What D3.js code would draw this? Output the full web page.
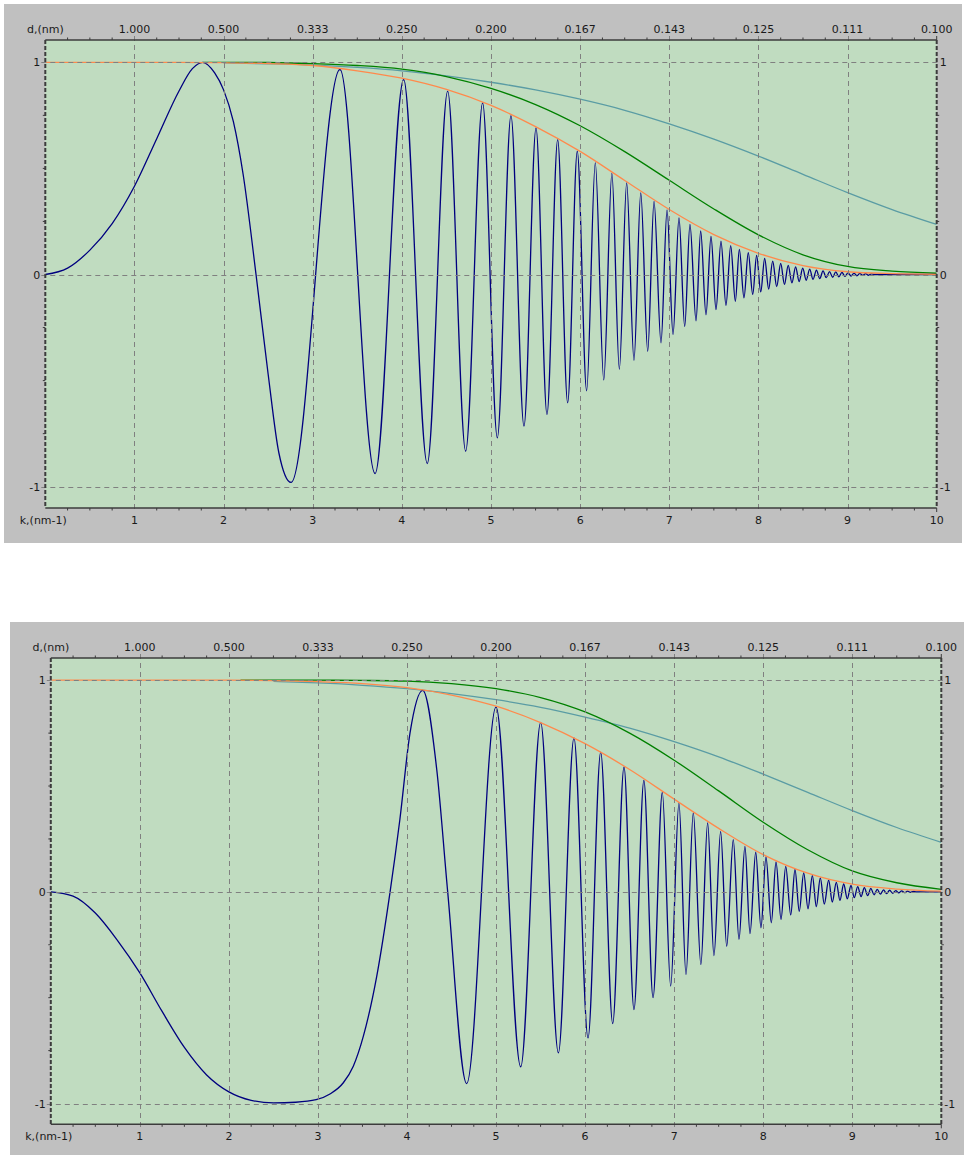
<!DOCTYPE html>
<html>
<head>
<meta charset="utf-8">
<script src="https://cdn.jsdelivr.net/npm/d3@7"></script>
<style>
  body { margin: 0; background: #ffffff; }
  svg { display: block; }
  text { font-family: "DejaVu Sans", Verdana, sans-serif; font-size: 11px; fill: #1a1a1a; }
</style>
</head>
<body>
<svg id="chart" width="964" height="1156"></svg>
<script>
// ---------- axis labels ----------
const kTicks = [1, 2, 3, 4, 5, 6, 7, 8, 9, 10];
const kTickLabels = ["1", "2", "3", "4", "5", "6", "7", "8", "9", "10"];
const dTickLabels = ["1.000", "0.500", "0.333", "0.250", "0.200", "0.167", "0.143", "0.125", "0.111", "0.100"];
const yTicks = [-1, 0, 1];
const yTickLabels = ["-1", "0", "1"];
const kAxisTitle = "k,(nm-1)";
const dAxisTitle = "d,(nm)";

// ---------- envelope samples (k = 0, 0.5, ... 10) ----------
const envK = [0, 0.5, 1, 1.5, 2, 2.5, 3, 3.5, 4, 4.5, 5, 5.5, 6, 6.5, 7, 7.5, 8, 8.5, 9, 9.5, 10];

// upper chart
const orangeTopV = [1, 1, 1, 1, 0.998, 0.994, 0.985, 0.96, 0.925, 0.872, 0.797, 0.697, 0.58, 0.443, 0.306, 0.188, 0.1, 0.042, 0.013, 0.004, 0.001];
const greenTopK = [1.77, 2, 2.5, 3, 3.5, 4, 4.5, 5, 5.5, 6, 6.5, 7, 7.5, 8, 8.5, 9, 9.5, 10];
const greenTopV = [1, 1, 0.999, 0.994, 0.985, 0.968, 0.933, 0.877, 0.801, 0.701, 0.579, 0.444, 0.309, 0.187, 0.093, 0.038, 0.016, 0.006];
const tealTopK = [2, 2.5, 3, 3.5, 4, 4.5, 5, 5.5, 6, 6.5, 7, 7.5, 8, 8.5, 9, 9.5, 10];
const tealTopV = [0.997, 0.993, 0.987, 0.976, 0.96, 0.936, 0.906, 0.87, 0.826, 0.774, 0.71, 0.638, 0.558, 0.472, 0.386, 0.306, 0.236];

// lower chart
const orangeBotV = [1, 1, 1, 1, 1, 0.998, 0.993, 0.984, 0.965, 0.93, 0.877, 0.8, 0.7, 0.578, 0.438, 0.3, 0.176, 0.088, 0.036, 0.013, 0.003];
const greenBotK = [2.13, 2.5, 3, 3.5, 4, 4.5, 5, 5.5, 6, 6.5, 7, 7.5, 8, 8.5, 9, 9.5, 10];
const greenBotV = [1, 1, 1, 0.999, 0.996, 0.984, 0.96, 0.918, 0.85, 0.75, 0.622, 0.477, 0.329, 0.199, 0.099, 0.043, 0.012];
const tealBotK = [2.5, 3, 3.5, 4, 4.5, 5, 5.5, 6, 6.5, 7, 7.5, 8, 8.5, 9, 9.5, 10];
const tealBotV = [0.994, 0.987, 0.976, 0.96, 0.937, 0.908, 0.872, 0.826, 0.774, 0.71, 0.638, 0.556, 0.47, 0.384, 0.304, 0.234];

// ---------- contrast transfer function: turning points [k, value] ----------
const ctfTop = [
  [0, 0], [0.25, 0.03], [0.5, 0.115], [0.75, 0.24], [1, 0.416], [1.25, 0.64], [1.5, 0.865], [1.65, 0.97],
  [1.766, 1.0], [1.9, 0.95], [2.0, 0.87], [2.11, 0.72], [2.22, 0.47], [2.364, 0], [2.5, -0.47], [2.62, -0.84],
  [2.757, -0.98], [3.306, 0.966],
  [3.70, -0.938], [4.02, 0.919], [4.285, -0.891], [4.514, 0.864], [4.716, -0.833], [4.906, 0.809],
  [5.071, -0.77], [5.224, 0.749], [5.37, -0.715], [5.505, 0.691], [5.628, -0.66], [5.748, 0.636],
  [5.86, -0.605], [5.968, 0.581], [6.073, -0.548], [6.17, 0.526], [6.265, -0.497], [6.356, 0.477],
  [6.44, -0.446], [6.522, 0.432], [6.604, -0.404], [6.68, 0.385], [6.758, -0.362], [6.829, 0.345],
  [6.907, -0.322], [6.975, 0.305], [7.042, -0.283], [7.109, 0.267], [7.173, -0.246], [7.232, 0.236],
  [7.3, -0.218], [7.352, 0.205], [7.412, -0.19], [7.468, 0.18], [7.524, -0.165], [7.58, 0.157],
  [7.636, -0.145], [7.689, 0.136], [7.741, -0.126], [7.786, 0.118], [7.838, -0.11], [7.886, 0.103],
  [7.936, -0.094], [7.98, 0.09], [8.026, -0.082], [8.07, 0.076], [8.115, -0.069], [8.16, 0.063],
  [8.205, -0.057], [8.25, 0.052], [8.292, -0.047], [8.334, 0.043], [8.376, -0.039], [8.417, 0.036],
  [8.457, -0.033], [8.497, 0.03], [8.536, -0.027], [8.575, 0.025], [8.613, -0.023], [8.651, 0.021],
  [8.688, -0.019], [8.725, 0.017], [8.761, -0.015], [8.797, 0.014], [8.833, -0.013], [8.868, 0.012],
  [8.903, -0.011], [8.937, 0.01], [8.971, -0.009], [9.005, 0.008], [9.039, -0.007], [9.072, 0.0065],
  [9.105, -0.006], [9.138, 0.005], [9.171, -0.0045], [9.203, 0.004], [9.235, -0.0035], [9.267, 0.003],
  [9.3, 0], [10, 0]
];

const ctfBot = [
  [0, 0], [0.25, -0.02], [0.5, -0.1], [0.75, -0.23], [1.0, -0.383], [1.25, -0.565], [1.5, -0.735],
  [1.75, -0.865], [2.0, -0.945], [2.25, -0.985], [2.5, -0.997], [2.75, -0.994], [2.98, -0.982],
  [3.135, -0.955], [3.285, -0.902], [3.397, -0.824], [3.51, -0.682], [3.66, -0.399], [3.81, 0],
  [3.92, 0.342], [4.034, 0.751], [4.176, 0.952], [4.334, 0.578], [4.457, 0], [4.67, -0.906],
  [5.0, 0.874], [5.277, -0.827], [5.501, 0.801], [5.70, -0.761], [5.875, 0.727], [6.033, -0.69],
  [6.175, 0.66], [6.31, -0.622], [6.437, 0.59], [6.549, -0.556], [6.66, 0.527], [6.763, -0.5],
  [6.867, 0.47], [6.961, -0.445], [7.054, 0.42], [7.133, -0.39], [7.215, 0.373], [7.3, -0.343],
  [7.376, 0.326], [7.447, -0.301], [7.522, 0.286], [7.59, -0.257], [7.664, 0.247], [7.728, -0.225],
  [7.795, 0.215], [7.852, -0.197], [7.916, 0.187], [7.975, -0.17], [8.031, 0.165], [8.091, -0.146],
  [8.144, 0.142], [8.2, -0.13], [8.253, 0.12], [8.309, -0.109], [8.357, 0.106], [8.405, -0.092],
  [8.455, 0.09], [8.503, -0.08], [8.552, 0.077], [8.597, -0.07], [8.641, 0.066], [8.686, -0.058],
  [8.735, 0.055], [8.776, -0.048], [8.821, 0.045], [8.862, -0.04], [8.904, 0.037], [8.944, -0.033],
  [8.986, 0.03], [9.023, -0.027], [9.061, 0.025], [9.099, -0.022], [9.136, 0.02], [9.173, -0.018],
  [9.209, 0.016], [9.245, -0.014], [9.281, 0.012], [9.316, -0.011], [9.351, 0.0095], [9.386, -0.0085],
  [9.42, 0.0075], [9.454, -0.0065], [9.488, 0.0057], [9.522, -0.005], [9.555, 0.0044], [9.588, -0.0038],
  [9.621, 0.0033], [9.654, -0.0028], [9.687, 0.0024], [9.72, 0], [10, 0]
];

// ---------- drawing ----------
const COLORS = {
  frame: "#c0c0c0",
  plot: "#c0dcc0",
  grid: "#808080",
  axis: "#3c3c3c",
  ctf: "#00007f",
  orange: "#ff8a4c",
  green: "#008000",
  teal: "#5a9ca4"
};

const pairs = (ks, vs) => ks.map((k, i) => [k, vs[i]]);

const panels = [
  {
    id: "upper",
    frame: { x: 4, y: 4, w: 958, h: 539 },
    kRange: [45.3, 936.7],
    yRange: [486.7, 62.3],
    box: [40, 508],
    ctf: ctfTop,
    orange: pairs(envK, orangeTopV),
    green: pairs(greenTopK, greenTopV),
    teal: pairs(tealTopK, tealTopV)
  },
  {
    id: "lower",
    frame: { x: 10, y: 622, w: 954, h: 533 },
    kRange: [50.8, 941.3],
    yRange: [1103.5, 680.2],
    box: [658, 1124.3],
    ctf: ctfBot,
    orange: pairs(envK, orangeBotV),
    green: pairs(greenBotK, greenBotV),
    teal: pairs(tealBotK, tealBotV)
  }
];

const svg = d3.select("#chart");

panels.forEach(p => {
  const g = svg.append("g").attr("class", "panel-" + p.id);
  const x = d3.scaleLinear().domain([0, 10]).range(p.kRange);
  const y = d3.scaleLinear().domain([-1, 1]).range(p.yRange);
  const [x0, x1] = p.kRange;
  const [top, bottom] = p.box;

  // grey surround and plot background
  g.append("rect")
    .attr("x", p.frame.x).attr("y", p.frame.y)
    .attr("width", p.frame.w).attr("height", p.frame.h)
    .attr("fill", COLORS.frame);
  g.append("rect")
    .attr("x", x0).attr("y", top)
    .attr("width", x1 - x0).attr("height", bottom - top)
    .attr("fill", COLORS.plot);

  const clipId = "clip-" + p.id;
  g.append("clipPath").attr("id", clipId)
    .append("rect").attr("x", x0).attr("y", top)
    .attr("width", x1 - x0).attr("height", bottom - top);

  const curves = g.append("g").attr("clip-path", `url(#${clipId})`).attr("fill", "none");
  const line = d3.line().x(d => x(d[0])).y(d => y(d[1])).curve(d3.curveMonotoneX);

  curves.append("path").datum(p.teal).attr("d", line)
    .attr("stroke", COLORS.teal).attr("stroke-width", 1.3);
  curves.append("path").datum(p.green).attr("d", line)
    .attr("stroke", COLORS.green).attr("stroke-width", 1.3);
  curves.append("path").datum(p.ctf).attr("d", line)
    .attr("stroke", COLORS.ctf).attr("stroke-width", 1.3).attr("stroke-linejoin", "round");
  curves.append("path").datum(p.orange).attr("d", line)
    .attr("stroke", COLORS.orange).attr("stroke-width", 1.3);

  // dashed grid (extends a few px past the frame as major ticks)
  const grid = g.append("g").attr("stroke", COLORS.grid).attr("stroke-width", 1)
    .attr("stroke-dasharray", "5,4");
  grid.selectAll("line.v").data(kTicks.slice(0, -1)).join("line")
    .attr("x1", d => Math.round(x(d)) + 0.5).attr("x2", d => Math.round(x(d)) + 0.5)
    .attr("y1", top - 4).attr("y2", bottom + 4);
  grid.selectAll("line.h").data(yTicks).join("line")
    .attr("x1", x0 - 4).attr("x2", x1 + 4)
    .attr("y1", d => Math.round(y(d)) + 0.5).attr("y2", d => Math.round(y(d)) + 0.5);

  // k axes: solid lines top and bottom with quarter-step minor ticks
  const axes = g.append("g").attr("stroke", COLORS.axis);
  axes.append("line").attr("x1", x0).attr("x2", x1).attr("y1", top).attr("y2", top).attr("stroke-width", 1.5);
  axes.append("line").attr("x1", x0).attr("x2", x1).attr("y1", bottom).attr("y2", bottom).attr("stroke-width", 1.5);
  const minorK = d3.range(0.25, 10, 0.25).filter(k => Math.abs(k - Math.round(k)) > 1e-6);
  axes.selectAll("line.mt").data(minorK).join("line")
    .attr("x1", d => x(d)).attr("x2", d => x(d))
    .attr("y1", top - 2.5).attr("y2", top).attr("stroke-width", 1);
  axes.selectAll("line.mb").data(minorK).join("line")
    .attr("x1", d => x(d)).attr("x2", d => x(d))
    .attr("y1", bottom).attr("y2", bottom + 2.5).attr("stroke-width", 1);
  axes.append("line").attr("x1", x1).attr("x2", x1).attr("y1", top).attr("y2", top - 4).attr("stroke-width", 1);
  axes.append("line").attr("x1", x1).attr("x2", x1).attr("y1", bottom).attr("y2", bottom + 4).attr("stroke-width", 1);

  // value axes: dashed vertical lines left and right
  axes.append("line").attr("x1", x0).attr("x2", x0).attr("y1", top).attr("y2", bottom)
    .attr("stroke-width", 2).attr("stroke-dasharray", "4,2");
  axes.append("line").attr("x1", x1).attr("x2", x1).attr("y1", top).attr("y2", bottom)
    .attr("stroke-width", 2).attr("stroke-dasharray", "4,2");
  const minorY = d3.range(-1, 1.01, 0.25).filter(v => Math.abs(v - Math.round(v)) > 1e-6);
  axes.selectAll("line.ml").data(minorY).join("line")
    .attr("x1", x0 - 2.5).attr("x2", x0).attr("y1", d => y(d)).attr("y2", d => y(d)).attr("stroke-width", 1);
  axes.selectAll("line.mr").data(minorY).join("line")
    .attr("x1", x1).attr("x2", x1 + 2.5).attr("y1", d => y(d)).attr("y2", d => y(d)).attr("stroke-width", 1);

  // labels
  const labels = g.append("g");
  labels.selectAll("text.d").data(kTicks).join("text")
    .attr("x", d => x(d)).attr("y", top - 7).attr("text-anchor", "middle")
    .text((d, i) => dTickLabels[i]);
  labels.append("text").attr("x", x(0)).attr("y", top - 7).attr("text-anchor", "middle").text(dAxisTitle);
  labels.selectAll("text.k").data(kTicks).join("text")
    .attr("x", d => x(d)).attr("y", bottom + 16).attr("text-anchor", "middle")
    .text((d, i) => kTickLabels[i]);
  labels.append("text").attr("x", x(0) - 2).attr("y", bottom + 16).attr("text-anchor", "middle").text(kAxisTitle);
  labels.selectAll("text.yl").data(yTicks).join("text")
    .attr("x", x0 - 5).attr("y", d => y(d) + 4).attr("text-anchor", "end")
    .text((d, i) => yTickLabels[i]);
  labels.selectAll("text.yr").data(yTicks).join("text")
    .attr("x", x1 + 3).attr("y", d => y(d) + 4).attr("text-anchor", "start")
    .text((d, i) => yTickLabels[i]);
});
</script>
</body>
</html>
